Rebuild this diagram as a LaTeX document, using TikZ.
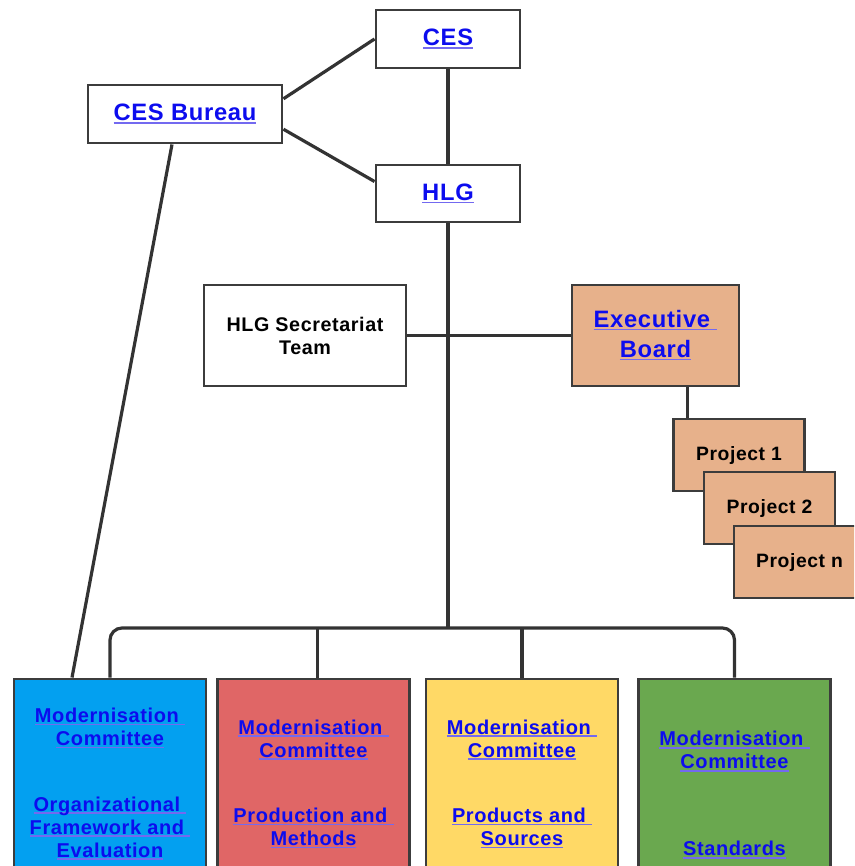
\documentclass[tikz,border=0pt]{standalone}
\usepackage{fontspec}
\setmainfont{Liberation Sans}[LetterSpace=3]
\usetikzlibrary{calc}

\definecolor{linkblue}{RGB}{12,12,238}
\definecolor{linkline}{RGB}{115,105,240}
\definecolor{boxline}{RGB}{60,60,60}
\definecolor{wire}{RGB}{51,51,51}
\definecolor{peach}{RGB}{231,177,139}
\definecolor{mcblue}{RGB}{3,160,240}
\definecolor{mcred}{RGB}{224,102,102}
\definecolor{mcyellow}{RGB}{255,217,102}
\definecolor{mcgreen}{RGB}{106,168,79}

% underlined link text, rule at fixed depth under the baseline
\newcommand{\lnk}[1]{\textcolor{linkblue}{\setbox0\hbox{#1}\rlap{\color{linkline}\rule[-2pt]{\wd0}{1.2pt}}\box0}}

\begin{document}
\begin{tikzpicture}[x=0.75pt,y=-0.75pt,
    boxwh/.style 2 args={minimum width=#1*0.75pt, minimum height=#2*0.75pt}]

\clip (0,0) rectangle (854,866);
\fill[white] (0,0) rectangle (854,866);

\begin{scope}[
    every node/.style={
        draw=boxline,
        line width=2.2pt,
        fill=white,
        inner sep=0pt,
        align=center,
        font=\bfseries\fontsize{17.8}{22.5}\selectfont}]

    \node[boxwh={144}{58}] (ces) at (448,39) {\lnk{CES}};
    \node[boxwh={194}{58}] (bureau) at (185,114) {\lnk{CES Bureau}};
    \node[boxwh={144}{57}] (hlg) at (448,193.5) {\lnk{HLG}};

    \node[boxwh={202}{101},font=\bfseries\fontsize{14.8}{17.25}\selectfont] (secr) at (305,335.5) {HLG Secretariat\\Team};
    \node[boxwh={167}{101},fill=peach] (exec) at (655.5,335.5) {\lnk{Executive\ }\\\lnk{Board}};
\end{scope}


\begin{scope}[
    every node/.style={
        draw=boxline,
        line width=2.2pt,
        fill=peach,
        inner sep=0pt,
        boxwh={131}{72},
        font=\bfseries\fontsize{14.5}{17}\selectfont}]

    \node (proj1) at (739,455) {Project 1};
    \node (proj2) at (769.5,508) {Project 2};
    \node (projn) at (799.5,562) {Project n};
\end{scope}


\begin{scope}[
    every node/.style={
        draw=boxline,
        line width=2.2pt,
        inner sep=0pt,
        align=center,
        boxwh={192}{210},
        font=\bfseries\fontsize{15}{17.25}\selectfont}]

    \node[fill=mcblue] (orgfw) at (110,784) {\lnk{Modernisation\ }\\\lnk{Committee}\\[32pt]\lnk{Organizational\ }\\\lnk{Framework and\ }\\\lnk{Evaluation}};
    \node[fill=mcred] (prodm) at (313.5,784) {\lnk{Modernisation\ }\\\lnk{Committee}\\[32pt]\lnk{Production and\ }\\\lnk{Methods}};
    \node[fill=mcyellow] (prods) at (522,784) {\lnk{Modernisation\ }\\\lnk{Committee}\\[32pt]\lnk{Products and\ }\\\lnk{Sources}};
    \node[fill=mcgreen,boxwh={192}{232}] (stds) at (734.5,795) {\lnk{Modernisation\ }\\\lnk{Committee}\\[48pt]\lnk{Standards}};
\end{scope}


\begin{scope}[draw=wire, line width=2.4pt]

    \coordinate (bus) at (448,628);

    \draw ($(bureau.north east)!0.5!(bureau.east)$) -- (ces.west);
    \draw ($(bureau.east)!0.5!(bureau.south east)$) -- ($(hlg.north west)!0.6!(hlg.west)$);
    \draw (ces) -- (hlg);
    \draw ($(bureau.south)+(-13,0)$) -- ($(orgfw.north)+(-38,0)$);
    \draw (secr) -- (exec);
    \draw (hlg) -- (bus);
    \draw[rounded corners=9pt] (orgfw.north) |- (bus) -| (stds.north);
    \draw ($(prodm.north)+(4,0)$) coordinate (pm) -- (pm |- bus);
    \draw (prods.north) -- (prods.north |- bus);
    \draw ($(exec.south)+(32,0)$) coordinate (eb) -- (eb |- proj1.north);

\end{scope}
\end{tikzpicture}
\end{document}
